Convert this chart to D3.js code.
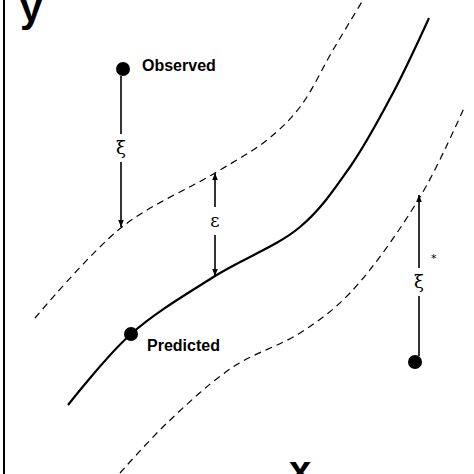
<!DOCTYPE html>
<html><head><meta charset="utf-8">
<script src="https://cdn.jsdelivr.net/npm/d3@7"></script>
<style>body{margin:0;background:#fff}svg{display:block}</style>
</head><body><div id="container"></div>
<script>
// curve points, in picture units (0..474 both ways, y downwards)
const predicted = [[68,405],[131,334],[215,276],[300,227],[350,167],[393,93],[429,18]];
const upperBand = [[35,318],[122,227],[215,173],[267,140],[300,107],[333,50],[363,0]];
const lowerBand = [[120,473],[167,423],[233,367],[300,333],[350,293],[420,197],[464,108]];
// dots and the arrows between them
const observedPt = [123,69];
const predictedPt = [131,334];
const otherPt = [415,362];
const arrows = [
  {x: 121, from: 76, to: 227, label: "ξ", ly: 148},
  {x: 215, from: 276, to: 173, label: "ε", ly: 221, both: true},
  {x: 419, from: 356, to: 195, label: "ξ", ly: 282}
];

const w = 474, h = 474;
const x = d3.scaleLinear().domain([0, 474]).range([0, w]);
const y = d3.scaleLinear().domain([0, 474]).range([0, h]);

const svg = d3.select("#container").append("svg").attr("width", w).attr("height", h);

const defs = svg.append("defs");
defs.append("marker").attr("id", "head")
  .attr("viewBox", "0 0 10 10").attr("refX", 10).attr("refY", 5)
  .attr("markerWidth", 7).attr("markerHeight", 9).attr("orient", "auto-start-reverse")
  .attr("markerUnits", "userSpaceOnUse")
  .append("path").attr("d", "M0,1 L10,5 L0,9 Z").attr("fill", "#000");

// y axis line
svg.append("line").attr("x1", 4).attr("x2", 4).attr("y1", 0).attr("y2", h)
   .attr("stroke", "#000").attr("stroke-width", 2);

const line = d3.line().x(d => x(d[0])).y(d => y(d[1])).curve(d3.curveCatmullRom);

svg.append("path").attr("d", line(predicted)).attr("fill", "none")
   .attr("stroke", "#000").attr("stroke-width", 2.2);
[upperBand, lowerBand].forEach(b => {
  svg.append("path").attr("d", line(b)).attr("fill", "none")
     .attr("stroke", "#000").attr("stroke-width", 1.2).attr("stroke-dasharray", "7,5");
});

// arrows, broken where the label sits
arrows.forEach(a => {
  const gap = 14;
  const dir = a.to > a.from ? 1 : -1;
  svg.append("line").attr("x1", x(a.x)).attr("x2", x(a.x))
     .attr("y1", y(a.ly + dir * gap)).attr("y2", y(a.to))
     .attr("stroke", "#000").attr("stroke-width", 1.6).attr("marker-end", "url(#head)");
  const l2 = svg.append("line").attr("x1", x(a.x)).attr("x2", x(a.x))
     .attr("y1", y(a.ly - dir * gap)).attr("y2", y(a.from))
     .attr("stroke", "#000").attr("stroke-width", 1.6);
  if (a.both) l2.attr("marker-end", "url(#head)");
  svg.append("text").attr("x", x(a.x)).attr("y", y(a.ly) + 6)
     .attr("text-anchor", "middle").attr("font-family", "DejaVu Serif")
     .attr("font-size", 18).text(a.label);
});
svg.append("text").attr("x", x(431)).attr("y", y(262)).attr("font-family", "DejaVu Sans")
   .attr("font-size", 11).text("*");

svg.selectAll("circle.dot").data([observedPt, predictedPt, otherPt]).enter()
   .append("circle").attr("class", "dot")
   .attr("cx", d => x(d[0])).attr("cy", d => y(d[1])).attr("r", 7).attr("fill", "#000");

const bold = {"font-family": "Liberation Sans, Arial, sans-serif", "font-weight": "bold"};
function label(t, px, py, size) {
  const el = svg.append("text").attr("x", x(px)).attr("y", y(py)).attr("font-size", size).text(t);
  Object.entries(bold).forEach(([k, v]) => el.attr(k, v));
}
label("Observed", 142, 71, 16);
label("Predicted", 147, 351, 16);
label("y", 20, 22, 40);
label("x", 289, 484, 40);
</script></body></html>
